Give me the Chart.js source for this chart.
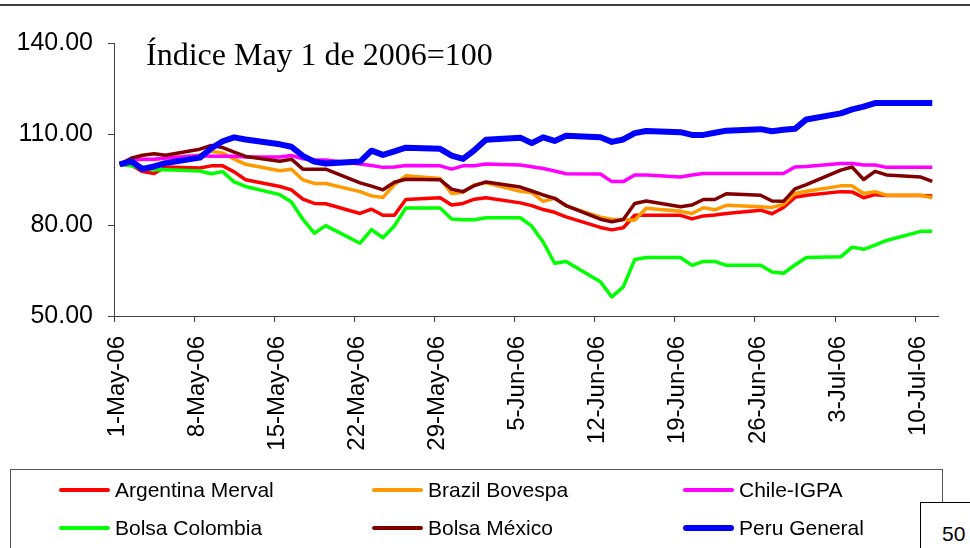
<!DOCTYPE html>
<html>
<head>
<meta charset="utf-8">
<script src="https://cdn.jsdelivr.net/npm/chart.js@4.4.0/dist/chart.umd.min.js"></script>
<style>
  body { margin:0; background:#fff; width:970px; height:548px; overflow:hidden; position:relative; font-family:"Liberation Sans", Arial, sans-serif; }
  #topline { position:absolute; left:0; top:4px; width:970px; height:2px; background:#404040; }
  #c { position:absolute; left:0; top:0; }
  #legend { position:absolute; left:10px; top:469px; width:933px; height:100px; border:1px solid #555; box-sizing:border-box; }
  .item { position:absolute; height:0; }
  .item .sw { position:absolute; left:0; width:51px; border-radius:3px; }
  .item .tx { position:absolute; left:56px; top:-12px; font-size:21px; line-height:24px; color:#000; white-space:nowrap; }
  #page { position:absolute; left:920px; top:502px; width:60px; height:60px; border:1px solid #000; background:#fff; font-size:21px; line-height:24px; padding:19px 0 0 21px; box-sizing:border-box; }
</style>
</head>
<body>
<div id="topline"></div>
<canvas id="c" width="970" height="548"></canvas>
<div id="legend"></div>
<div id="page">50</div>
<script>
// fechas (días hábiles)
const dates = [
  '2006-05-01','2006-05-02','2006-05-03','2006-05-04','2006-05-05',
  '2006-05-08','2006-05-09','2006-05-10','2006-05-11','2006-05-12',
  '2006-05-15','2006-05-16','2006-05-17','2006-05-18','2006-05-19',
  '2006-05-22','2006-05-23','2006-05-24','2006-05-25','2006-05-26',
  '2006-05-29','2006-05-30','2006-05-31','2006-06-01','2006-06-02',
  '2006-06-05','2006-06-06','2006-06-07','2006-06-08','2006-06-09',
  '2006-06-12','2006-06-13','2006-06-14','2006-06-15','2006-06-16',
  '2006-06-19','2006-06-20','2006-06-21','2006-06-22','2006-06-23',
  '2006-06-26','2006-06-27','2006-06-28','2006-06-29','2006-06-30',
  '2006-07-03','2006-07-04','2006-07-05','2006-07-06','2006-07-07',
  '2006-07-10','2006-07-11'
];

const argentina = [100, 99.8, 97.6, 97, 99.1, 98.8, 99.5, 99.5, 97.5, 94.9,
  92.7, 91.6, 88.5, 87.1, 87, 83.8, 85.2, 83.2, 83.2, 88.4,
  89, 86.6, 87.1, 88.5, 89, 87.3, 86.4, 85.1, 84.2, 82.7,
  79.2, 78.4, 79.1, 83.2, 83.2, 83.2, 82, 83, 83.3, 83.8,
  84.9, 83.7, 85.8, 89.1, 89.8, 91, 90.9, 89, 90, 89.7, 89.7, 89.6];
const brazil = [100, 101.4, 101.6, 101.6, 102.1, 103.1, 104.3, 103.7, 101.7, 100,
  97.9, 98.4, 94.9, 93.7, 93.7, 91, 89.6, 89.1, 93.3, 96.2,
  95.3, 90.4, 90.8, 93.3, 93.9, 91.1, 90.7, 87.8, 88.8, 86.3,
  82.6, 81.9, 81.8, 81.6, 85.5, 84.5, 83.8, 85.7, 85, 86.5,
  86, 85.8, 86.8, 90.4, 91.1, 92.9, 92.9, 90.4, 91, 89.8, 89.8, 89];
const chile = [100, 101.5, 101.7, 101.7, 102.1, 102.8, 102.7, 102.7, 102.7, 102.4,
  102.4, 102.9, 101.8, 101.5, 101.4, 100.1, 99.6, 99, 99.1, 99.6,
  99.5, 98.4, 99.5, 99.5, 100.1, 99.8, 99.2, 98.6, 97.8, 96.9,
  96.8, 94.3, 94.3, 96.5, 96.5, 95.8, 96.5, 97, 97, 97,
  97, 97, 97, 99.1, 99.3, 100.3, 100.3, 99.8, 99.8, 99, 99, 99];
const colombia = [100, 99.5, 98.6, 98.2, 98.2, 97.8, 96.9, 97.6, 94.2, 92.7,
  90, 87.6, 81.9, 77.3, 79.8, 74, 78.5, 75.8, 79.7, 85.6,
  85.6, 82, 81.7, 81.7, 82.4, 82.4, 79.6, 74.4, 67.4, 68,
  61.3, 56.3, 59.6, 68.6, 69.3, 69.3, 66.7, 68, 68, 66.7,
  66.7, 64.5, 64.1, 66.8, 69.3, 69.5, 72.7, 72, 73.4, 74.9, 77.9, 77.9];
const mexico = [100, 102, 103, 103.5, 103, 105, 106.2, 105.5, 104, 102.6,
  101, 101.7, 98.4, 98.4, 98.4, 93.9, 92.8, 91.6, 94.1, 95.1,
  94.9, 91.8, 91, 93, 94.2, 92.5, 91.2, 89.9, 88.8, 86.4,
  81.9, 81.1, 81.8, 87.1, 87.9, 86, 86.6, 88.4, 88.4, 90.3,
  89.8, 87.9, 87.8, 91.9, 93.3, 98.1, 99.1, 95, 97.7, 96.5, 95.8, 94.4];
const peru = [100, 101, 98.5, 99.3, 100.4, 102.2, 105.3, 107.6, 108.9, 108.2,
  106.6, 105.8, 102.8, 100.9, 100.3, 100.9, 104.5, 103.1, 104.3, 105.5,
  105.1, 102.9, 101.8, 104.7, 108.1, 108.8, 107, 108.9, 107.7, 109.4,
  108.9, 107.4, 108.2, 110.3, 111, 110.6, 109.7, 109.7, 110.4, 111.1,
  111.6, 110.9, 111.4, 111.7, 114.8, 116.8, 118.1, 119, 120.2, 120.2, 120.2, 120.2];

const names = ['Argentina Merval', 'Brazil Bovespa', 'Chile-IGPA', 'Bolsa Colombia', 'Bolsa México', 'Peru General'];
const series = [argentina, brazil, chile, colombia, mexico, peru];
const colors = ['#ff0000', '#ff9900', '#ff00ff', '#00ff00', '#800000', '#0000ff'];
const widths = [3.5, 3.5, 3.5, 3.5, 3.5, 6];
const yTicks = [50, 80, 110, 140];
const note = 'Índice May 1 de 2006=100';

const DAY = 86400000;
const start = Date.UTC(2006, 4, 1);
const monthNames = ['Jan','Feb','Mar','Apr','May','Jun','Jul','Aug','Sep','Oct','Nov','Dec'];
function dayIndex(s) {
  const p = s.split('-').map(Number);
  return Math.round((Date.UTC(p[0], p[1] - 1, p[2]) - start) / DAY);
}
function dateLabel(v) {
  const d = new Date(start + v * DAY);
  return d.getUTCDate() + '-' + monthNames[d.getUTCMonth()] + '-' + String(d.getUTCFullYear()).slice(2);
}

// leyenda
const legend = document.getElementById('legend');
const legLeft = [48, 361, 672], legTop = [20, 58];
names.forEach((n, i) => {
  const it = document.createElement('div');
  it.className = 'item';
  it.style.left = legLeft[i % 3] + 'px';
  it.style.top = legTop[Math.floor(i / 3)] + 'px';
  it.innerHTML = `<div class="sw" style="background:${colors[i]};height:${i === 5 ? 6 : 4}px;top:${i === 5 ? -3 : -2}px"></div><div class="tx">${n}</div>`;
  legend.appendChild(it);
});

const notePlugin = {
  id: 'note',
  afterDraw(chart) {
    const ctx = chart.ctx;
    ctx.save();
    ctx.font = '32px "Liberation Serif", "Times New Roman", serif';
    ctx.fillStyle = '#000';
    ctx.textBaseline = 'alphabetic';
    ctx.fillText(note, 146, 65);
    ctx.restore();
  }
};

new Chart(document.getElementById('c'), {
  type: 'line',
  data: {
    datasets: series.map((vals, i) => ({
      label: names[i],
      data: vals.map((v, j) => ({ x: dayIndex(dates[j]) + 0.5, y: v })),
      borderColor: colors[i],
      borderWidth: widths[i],
      pointRadius: 0,
      tension: 0,
      fill: false,
      borderJoinStyle: 'round',
      order: series.length - 1 - i
    }))
  },
  options: {
    responsive: false,
    animation: false,
    layout: { padding: { left: 0, top: 43, right: 32, bottom: 0 } },
    plugins: { legend: { display: false }, tooltip: { enabled: false } },
    scales: {
      x: {
        type: 'linear', min: 0, max: 72,
        afterFit: s => { s.height = 232; },
        grid: { drawOnChartArea: false, tickLength: 6, color: '#404040' },
        border: { color: '#404040', width: 1 },
        ticks: {
          stepSize: 7, includeBounds: false, autoSkip: false,
          minRotation: 90, maxRotation: 90, padding: 14, labelOffset: 3,
          color: '#000', font: { family: '"Liberation Sans", Arial, sans-serif', size: 24 },
          callback: v => dateLabel(v)
        }
      },
      y: {
        min: yTicks[0], max: yTicks[yTicks.length - 1],
        afterFit: s => { s.width = 114; },
        afterBuildTicks: s => { s.ticks = yTicks.map(v => ({ value: v })); },
        grid: { drawOnChartArea: false, tickLength: 6, color: '#404040' },
        border: { color: '#404040', width: 1 },
        ticks: {
          padding: 15, color: '#000',
          font: { family: '"Liberation Sans", Arial, sans-serif', size: 25 },
          callback: v => Number(v).toFixed(2)
        }
      }
    }
  },
  plugins: [notePlugin]
});
</script>
</body>
</html>
